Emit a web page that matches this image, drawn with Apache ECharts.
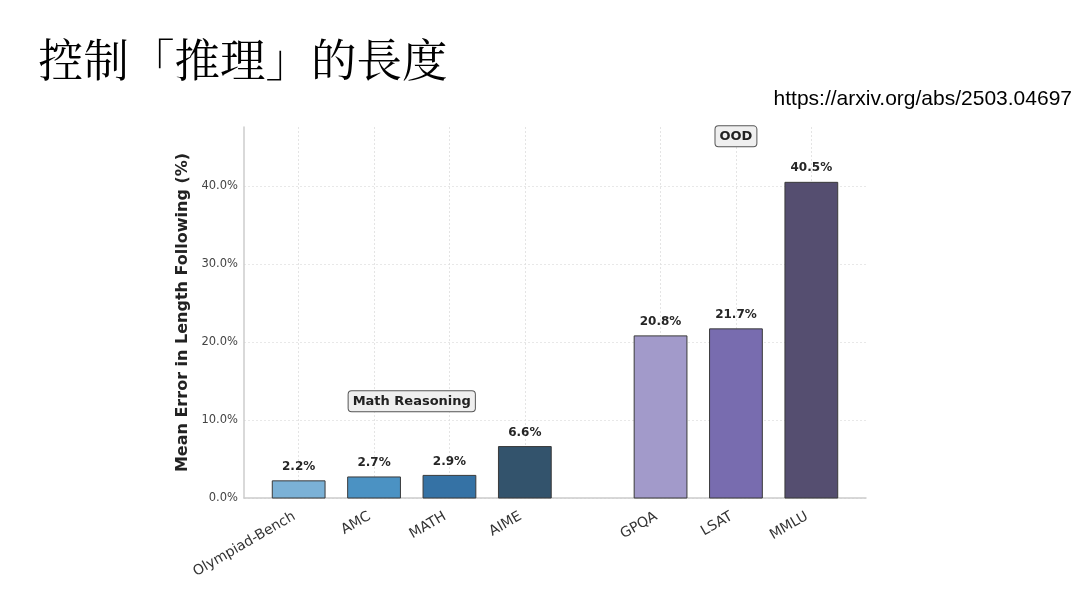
<!DOCTYPE html>
<html>
<head>
<meta charset="utf-8">
<script src="https://cdn.jsdelivr.net/npm/echarts@6/dist/echarts.min.js"></script>
<style>
html,body{margin:0;padding:0;background:#fff;}
#c{width:1080px;height:592px;}
</style>
</head>
<body>
<div id="c"></div>
<script>
// ---- data ----
const categories = ['Olympiad-Bench','AMC','MATH','AIME','GPQA','LSAT','MMLU'];
const positions = [0, 1, 2, 3, 4.8, 5.8, 6.8];
const values = [2.2, 2.7, 2.9, 6.6, 20.8, 21.7, 40.5];
const barColors = ['#7bb1d6','#4b92c3','#3572a5','#33536c','#a29aca','#786caf','#554e70'];
const yTicks = [0, 10, 20, 30, 40];
const groupLabels = ['Math Reasoning', 'OOD'];
const groupLabelPos = [[1.5, 12.4], [5.8, 46.4]];

const BAR_W = 0.7;
const chart = echarts.init(document.getElementById('c'), null, {renderer:'canvas'});
const barData = positions.map((p, i) => [p, values[i]]);

chart.setOption({
  animation: false,
  backgroundColor: '#fff',
  title: [
    {text: '控制「推理」的長度', left: 33, top: 32,
     textStyle: {fontFamily: '"Noto Serif CJK TC","Noto Serif CJK SC",serif,"Noto Sans CJK TC"', fontSize: 45.5, fontWeight: 'normal', color: '#000'}},
    {text: 'https://arxiv.org/abs/2503.04697', right: 3, top: 84,
     textStyle: {fontFamily: '"Liberation Sans",Arial,sans-serif', fontSize: 21, fontWeight: 'normal', color: '#000'}}
  ],
  grid: {left: 244, right: 214, top: 127, bottom: 94, containLabel: false},
  xAxis: {
    type: 'value', min: -0.725, max: 7.525,
    axisLine: {show: true, onZero: false, lineStyle: {color: '#cccccc', width: 1.5}},
    axisTick: {show: false, customValues: positions},
    axisLabel: {
      customValues: positions, rotate: 30, fontSize: 14, color: '#333',
      fontFamily: '"DejaVu Sans",sans-serif', margin: 15, padding: [0, 5, 0, 0],
      formatter: v => { const i = positions.findIndex(p => Math.abs(p - v) < 1e-6); return i >= 0 ? categories[i] : ''; }
    },
    splitLine: {show: true, lineStyle: {color: '#dddddd', type: [2, 2], width: 0.8}}
  },
  yAxis: {
    type: 'value', min: 0, max: 47.6, interval: 10,
    name: 'Mean Error in Length Following (%)', nameLocation: 'middle', nameGap: 47,
    nameTextStyle: {fontSize: 16, fontWeight: 'bold', color: '#222', fontFamily: '"DejaVu Sans",sans-serif'},
    axisLine: {show: true, onZero: false, lineStyle: {color: '#cccccc', width: 1.5}},
    axisTick: {show: false, customValues: yTicks},
    axisLabel: {customValues: yTicks, fontSize: 11.5, color: '#444', fontFamily: '"DejaVu Sans",sans-serif',
      margin: 6, formatter: v => v.toFixed(1) + '%'},
    splitLine: {show: true, lineStyle: {color: '#e2e2e2', type: [2, 2], width: 0.8}}
  },
  series: [
    {
      type: 'custom',
      data: barData,
      renderItem: (params, api) => {
        const x = api.value(0), y = api.value(1);
        const p0 = api.coord([x - BAR_W / 2, y]);
        const p1 = api.coord([x + BAR_W / 2, 0]);
        return {
          type: 'group',
          children: [
            {type: 'rect', shape: {x: p0[0], y: p0[1], width: p1[0] - p0[0], height: p1[1] - p0[1]},
             style: {fill: barColors[params.dataIndex], stroke: '#3a3a3a', lineWidth: 1}},
            {type: 'text', style: {text: y.toFixed(1) + '%', x: (p0[0] + p1[0]) / 2, y: p0[1] - 8,
             align: 'center', verticalAlign: 'bottom', fill: '#262626',
             font: 'bold 12px "DejaVu Sans", sans-serif'}}
          ]
        };
      }
    },
    {
      type: 'custom',
      data: groupLabelPos.map((p, i) => [p[0], p[1], i]),
      renderItem: (params, api) => {
        const pt = api.coord([api.value(0), api.value(1)]);
        return {
          type: 'text',
          style: {text: groupLabels[params.dataIndex], x: pt[0], y: pt[1], align: 'center', verticalAlign: 'middle',
            font: 'bold 13px "DejaVu Sans", sans-serif', fill: '#222',
            backgroundColor: '#efefef', borderColor: '#555', borderWidth: 1, borderRadius: 3,
            padding: [4, 4, 3, 4]}
        };
      }
    }
  ]
});
</script>
</body>
</html>
